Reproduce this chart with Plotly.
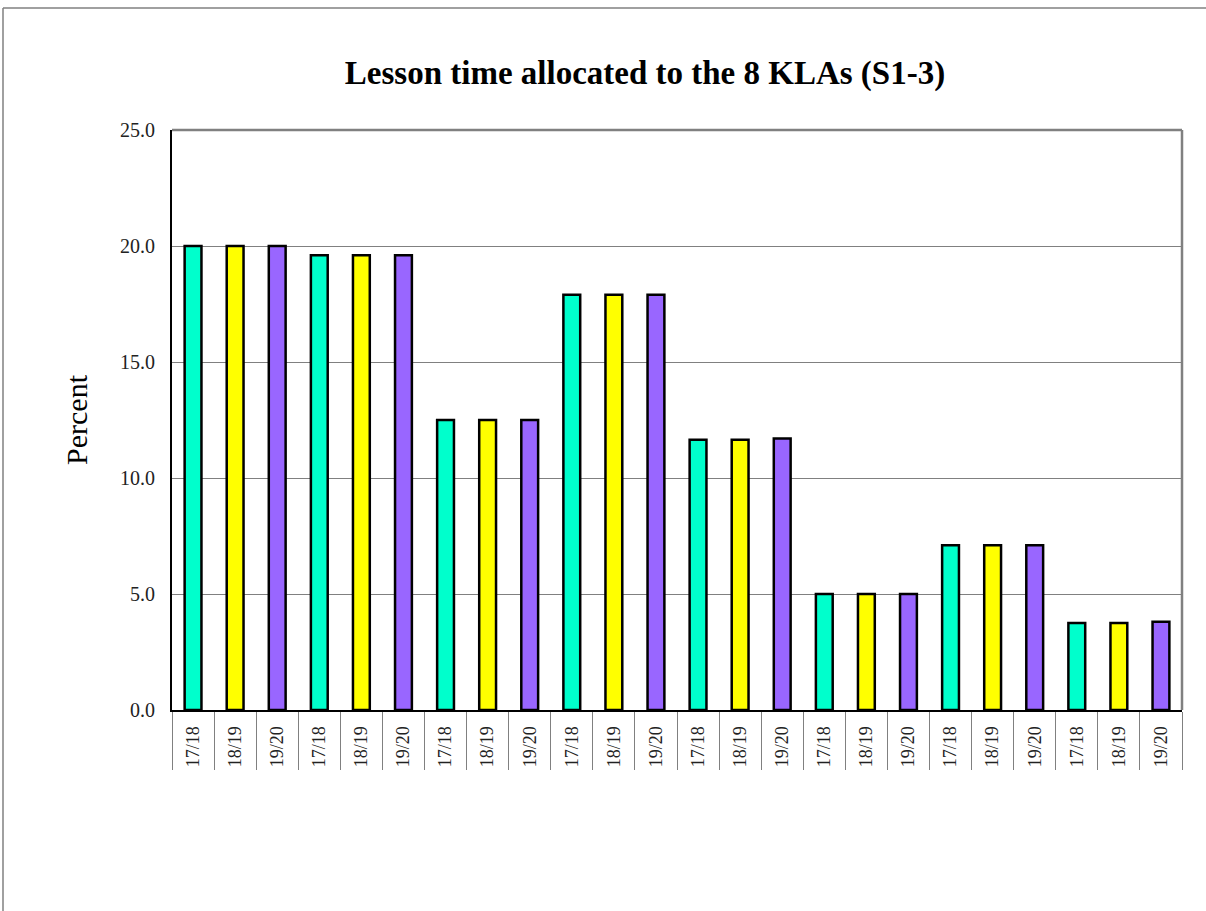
import plotly.graph_objects as go

years = ["17/18", "18/19", "19/20"]
n_groups = 8
values_1718 = [20.0, 19.6, 12.5, 17.9, 11.65, 5.0, 7.1, 3.75]
values_1819 = [20.0, 19.6, 12.5, 17.9, 11.65, 5.0, 7.1, 3.75]
values_1920 = [20.0, 19.6, 12.5, 17.9, 11.7, 5.0, 7.1, 3.8]
colors = ["#00FFCC", "#FFFF00", "#9966FF"]
y_ticks = [0, 5, 10, 15, 20, 25]

series = [values_1718, values_1819, values_1920]

xs, ys, cs, labels = [], [], [], []
for g in range(n_groups):
    for k in range(3):
        xs.append(g * 3 + k)
        ys.append(series[k][g])
        cs.append(colors[k])
        labels.append(years[k])

FONT = "Liberation Serif"
L, R, T, B = 172, 24, 130, 201
PW, PH = 1206 - L - R, 911 - T - B

fig = go.Figure()
fig.add_trace(go.Bar(
    x=xs, y=ys, width=0.40,
    marker=dict(color=cs, line=dict(color="#000000", width=2.5)),
    showlegend=False,
))

fig.update_layout(
    width=1206, height=911,
    margin=dict(l=L, r=R, t=T, b=B),
    paper_bgcolor="white", plot_bgcolor="white",
    title=dict(text="<b>Lesson time allocated to the 8 KLAs (S1-3)</b>",
               x=645 / 1206, xanchor="center", y=1 - 72 / 911, yanchor="middle",
               font=dict(family=FONT, size=33, color="black")),
    font=dict(family=FONT, color="black"),
)
fig.update_xaxes(
    range=[-0.5, len(xs) - 0.5],
    tickmode="array", tickvals=xs, ticktext=labels,
    tickangle=-90, ticks="outside", ticklen=7, tickcolor="rgba(0,0,0,0)",
    tickfont=dict(size=18, family=FONT, color="#222"),
    showgrid=False, zeroline=False,
    showline=True, linecolor="black", linewidth=2, mirror=False,
    minor=dict(tick0=-0.5, dtick=1, ticks="outside", ticklen=58,
               tickcolor="#808080", tickwidth=1, showgrid=False),
)
fig.update_yaxes(
    range=[0, 25], tickmode="array", tickvals=y_ticks,
    tickformat=".1f", ticks="outside", ticklen=11, tickcolor="rgba(0,0,0,0)",
    tickfont=dict(size=20, family=FONT, color="#222"),
    showgrid=True, gridcolor="#808080", gridwidth=1,
    zeroline=False,
    showline=True, linecolor="black", linewidth=2,
    title=dict(text="Percent", font=dict(size=30, family=FONT, color="black"), standoff=24),
)
# plot area border on top and right (gray)
fig.add_shape(type="line", xref="paper", yref="paper", x0=0, x1=1, y0=1, y1=1,
              line=dict(color="#808080", width=2.5))
fig.add_shape(type="line", xref="paper", yref="paper", x0=1, x1=1, y0=0, y1=1,
              line=dict(color="#808080", width=2.5))
# outer frame (top and left edges visible)
fx = (3 - L) / PW
fy = (911 - B - 8) / PH
fig.add_shape(type="line", xref="paper", yref="paper",
              x0=fx, x1=1.05, y0=fy, y1=fy,
              line=dict(color="#808080", width=1.5))
fig.add_shape(type="line", xref="paper", yref="paper",
              x0=fx, x1=fx, y0=fy, y1=-0.4,
              line=dict(color="#808080", width=1.5))

fig.write_html("out.html", config={"displayModeBar": False},
               post_script="document.body.style.margin='0';document.body.style.padding='0';")
